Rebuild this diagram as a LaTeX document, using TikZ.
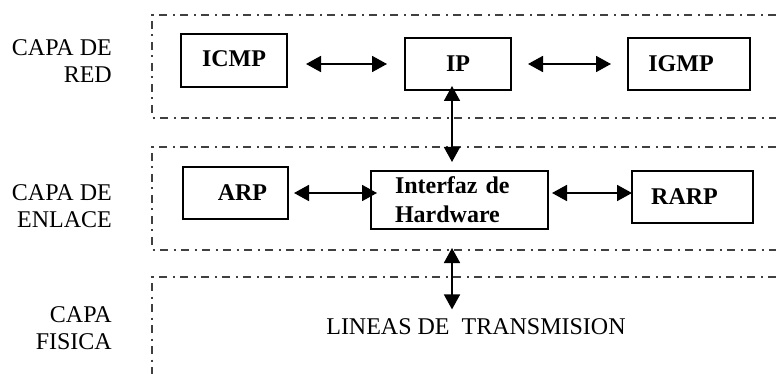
\documentclass[tikz,border=0pt]{standalone}
\usepackage{fontspec}
\setmainfont{Liberation Serif}
\usepackage{tikz}
\usetikzlibrary{arrows.meta}
\newcommand{\letra}{\fontsize{24}{27}\selectfont}
\tikzset{
  raya/.style={line width=1.3pt, black!75, dash pattern=on 8pt off 5.5pt on 2pt off 5.5pt},
  caja/.style={draw, line width=2pt, inner sep=0pt, font=\letra\bfseries},
  flecha/.style={line width=1.8pt, {Triangle[length=15pt,width=16pt]}-{Triangle[length=15pt,width=16pt]}},
  capalabel/.style={anchor=east, align=right, inner sep=0pt}
}
\newcommand{\capa}[2]{ \draw[raya] (776, #1 ) -- (152, #1 ) -- (152, #2 ) -- (776, #2 );}

\begin{document}
\begin{tikzpicture}[x=1pt,y=-1pt,font=\letra]
        \useasboundingbox (0,0) rectangle (776,374);
        % layers
        \capa{15}{118}
        \capa{147}{250}
        \draw[raya] (776,277) -- (152,277) -- (152,374);
        % layer names
        \node[capalabel] (red) at (112,61) {CAPA DE\\RED};
        \node[capalabel] (enlace) at (112,206) {CAPA DE\\ENLACE};
        \node[capalabel] (fisica) at (112,328) {CAPA\\FISICA};
        % row 1
        \node[caja, minimum width=106pt, minimum height=53pt] (icmp) at (234,60.5) {\raisebox{3pt}{ICMP}};
        \node[caja, minimum width=106pt, minimum height=52pt] (ip) at (458,64) {IP};
        \node[caja, minimum width=122pt, minimum height=52pt] (igmp) at (689,64) {IGMP\kern16pt};
        % row 2
        \node[caja, minimum width=105pt, minimum height=52pt] (arp) at (235.5,193) {\kern14pt ARP};
        \node[caja, minimum width=177pt, minimum height=58pt, align=left, text width=129pt] (hw) at (459.5,200) {Interfaz de\\[2pt]Hardware};
        \node[caja, minimum width=121pt, minimum height=52pt] (rarp) at (692.5,197) {RARP\kern16pt};
        % row 3
        \node (lineas) at (476,327) {LINEAS DE\ \ TRANSMISION};
        % arrows
        \draw[flecha, shorten <=18pt, shorten >=17pt] (icmp.east |- ip.west) -- (ip.west);
        \draw[flecha, shorten <=16pt, shorten >=16pt] (ip.east) -- (igmp.west);
        \draw[flecha, shorten <=-5pt, shorten >=8pt] ([xshift=-6pt]ip.south) -- ([xshift=-6pt]ip.south |- hw.north);
        \draw[flecha, shorten <=5pt, shorten >=-7pt] (arp.east) -- (arp.east -| hw.west);
        \draw[flecha, shorten <=3pt, shorten >=-1pt] (hw.east |- arp.east) -- (rarp.west |- arp.east);
        \draw[flecha, shorten <=18pt, shorten >=6pt] ([xshift=-7.5pt]hw.south) -- ([xshift=-7.5pt]hw.south |- lineas.north);
\end{tikzpicture}
\end{document}
